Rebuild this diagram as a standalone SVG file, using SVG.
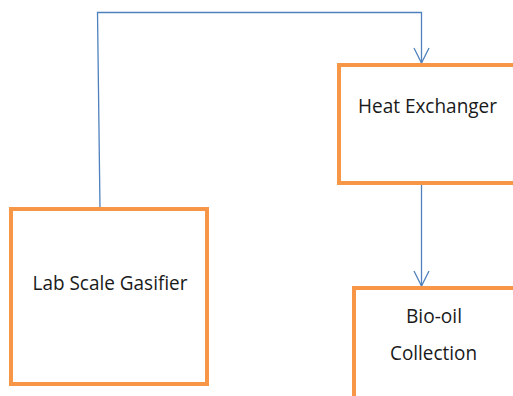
<svg xmlns="http://www.w3.org/2000/svg" width="513" height="396" viewBox="0 0 513 396">
  <style>
    .box { fill: #ffffff; stroke: #F79646; stroke-width: 4; }
    .lbl { font-family: "Open Sans", "Noto Sans", sans-serif; font-size: 20px; fill: #1a1a1a; }
    .wire { fill: none; stroke: #4F81BD; stroke-width: 1.3; }
    .head { fill: none; stroke: #4F81BD; stroke-width: 1.3; stroke-linejoin: miter; }
  </style>
  <rect width="513" height="396" fill="#ffffff"/>

  <g id="connectors">
    <!-- gasifier top up, across, down into the heat exchanger -->
    <path class="wire" d="M100,209 L97.5,12.5 L421.5,12.5 L421.5,63"/>
    <path class="head" d="M414,48 L421.5,63 L429,48"/>
    <!-- heat exchanger down to bio-oil collection -->
    <path class="wire" d="M421.5,183 L421.5,286"/>
    <path class="head" d="M414,271 L421.5,286 L429,271"/>
  </g>

  <g id="gasifier">
    <rect class="box" x="11" y="209" width="196" height="175"/>
    <text class="lbl" x="110" y="290" text-anchor="middle" textLength="155" lengthAdjust="spacingAndGlyphs">Lab Scale Gasifier</text>
  </g>

  <g id="heat-exchanger">
    <rect class="box" x="339" y="65" width="190" height="118"/>
    <text class="lbl" x="358" y="113" textLength="139" lengthAdjust="spacingAndGlyphs">Heat Exchanger</text>
  </g>

  <g id="bio-oil-collection">
    <rect class="box" x="354" y="288" width="180" height="130"/>
    <text class="lbl" x="434" y="323" text-anchor="middle" textLength="56" lengthAdjust="spacingAndGlyphs">Bio-oil</text>
    <text class="lbl" x="433.5" y="360" text-anchor="middle" textLength="87" lengthAdjust="spacingAndGlyphs">Collection</text>
  </g>
</svg>
